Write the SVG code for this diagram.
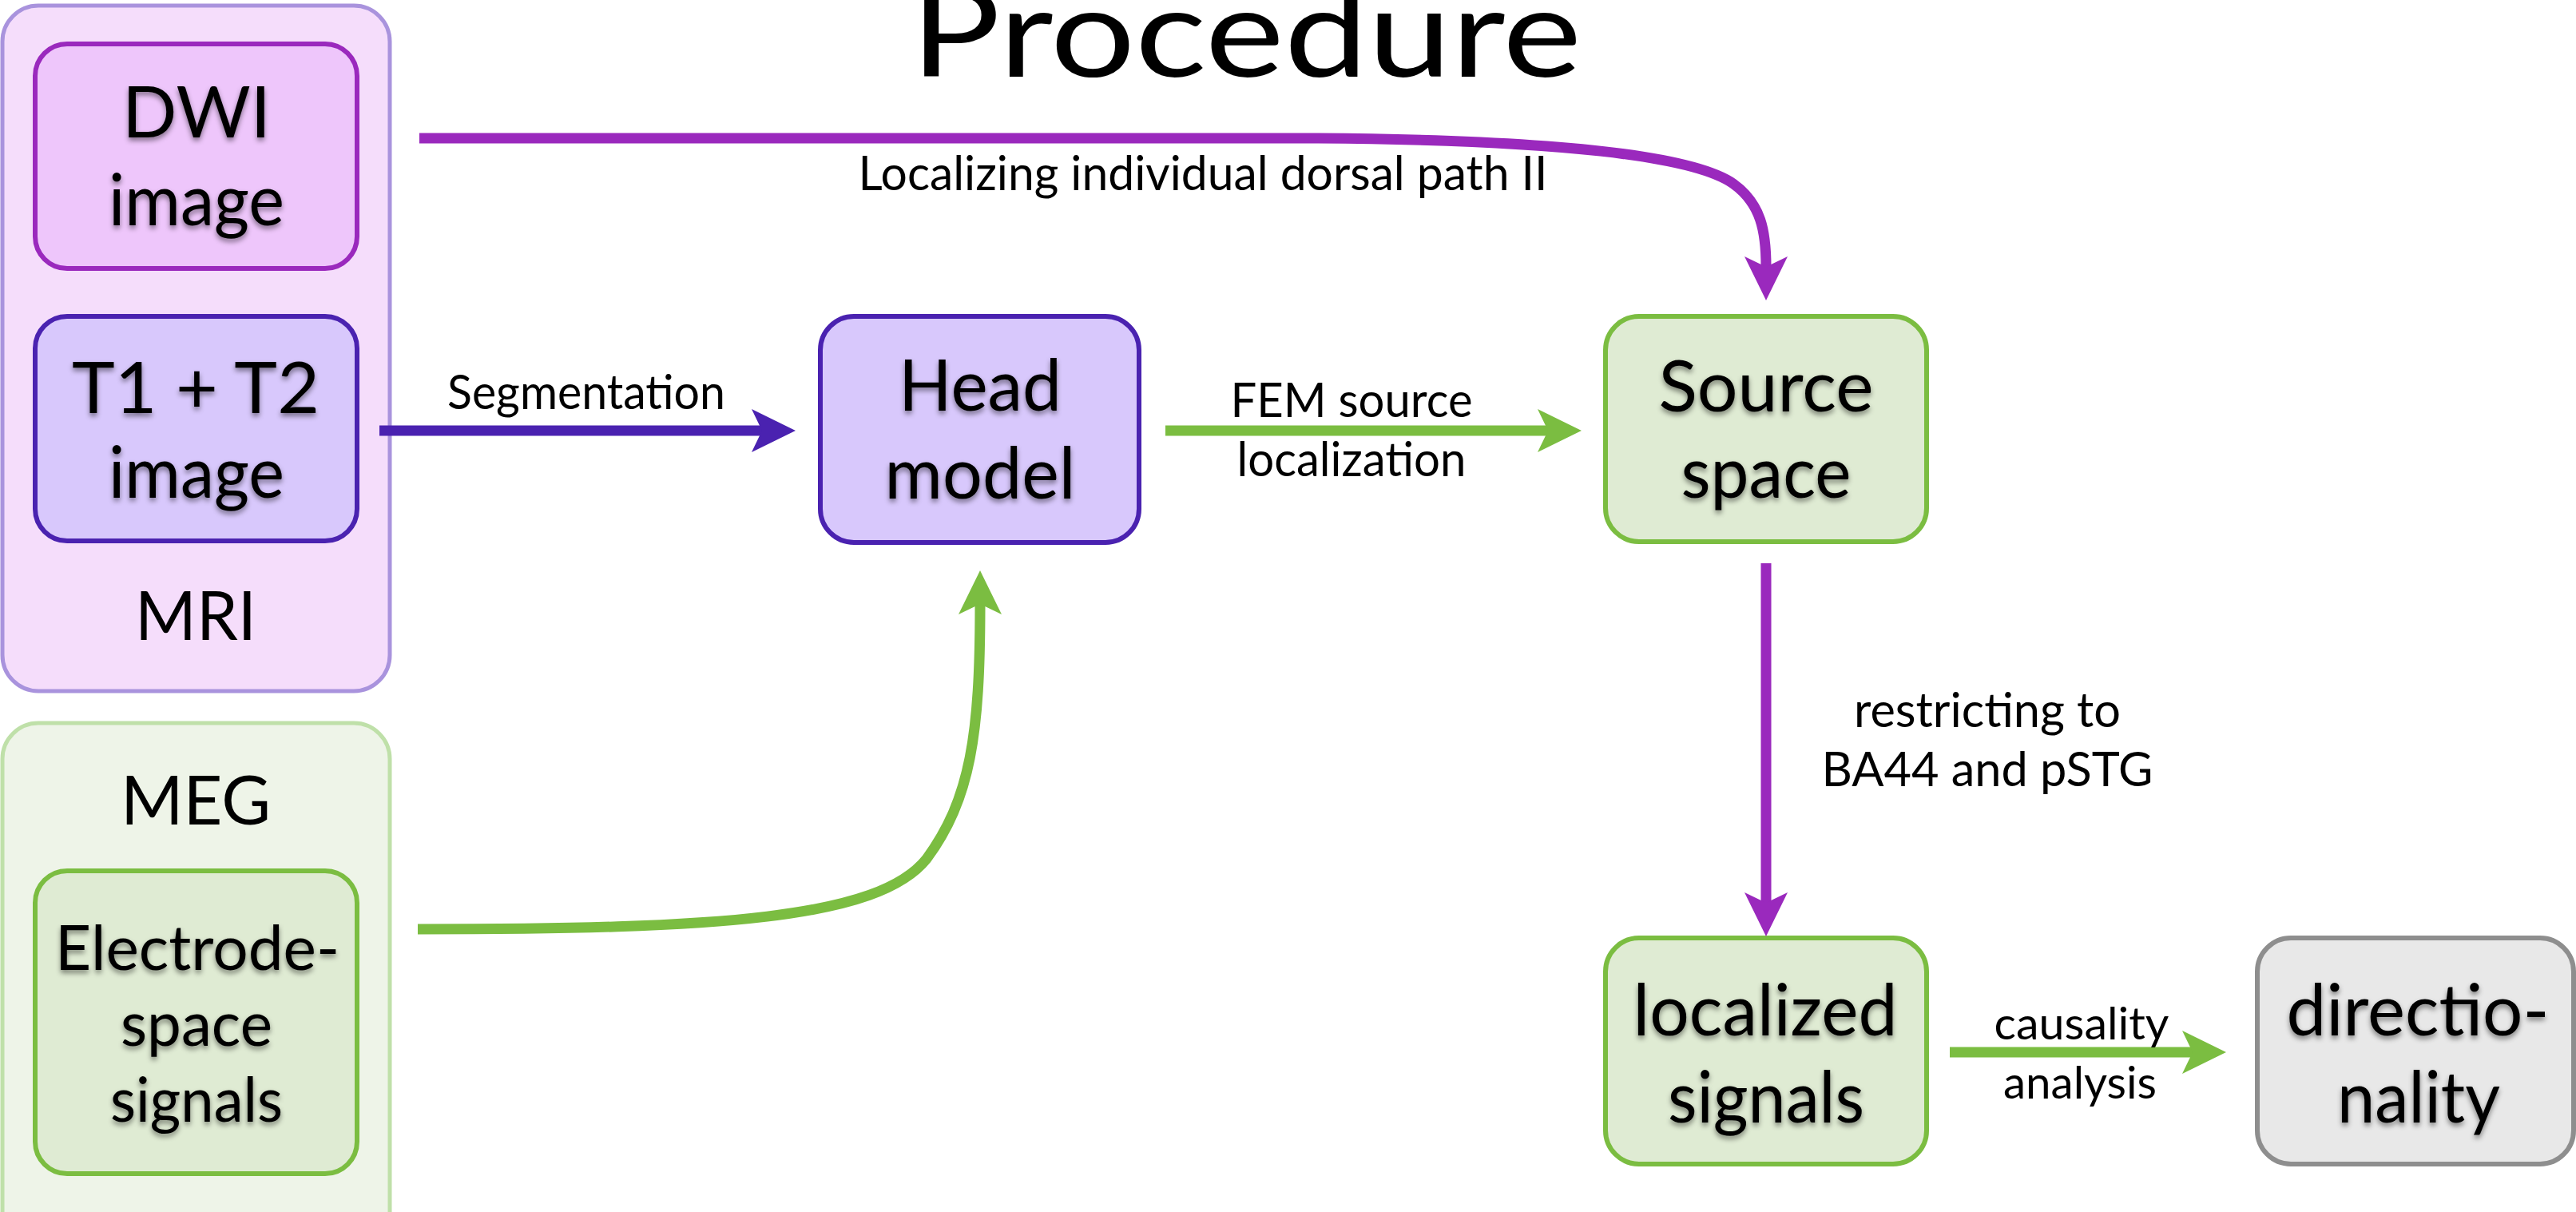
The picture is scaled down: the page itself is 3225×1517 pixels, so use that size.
<svg xmlns="http://www.w3.org/2000/svg" width="3225" height="1517" viewBox="0 0 3225 1517">
<style>
text{font-family:Lato,"Liberation Sans",sans-serif;fill:#000;text-anchor:middle}
.nt{font-size:90px;filter:url(#ts)}
.et{font-size:78px;filter:url(#ts)}
.gt{font-size:86px}
.lb{font-size:60px}
.sm{font-size:56px}
.line{fill:none;stroke-width:13}
.pu{stroke:#9a29bd}
.in{stroke:#4a22b0}
.gr{stroke:#7bbd41}
.node{stroke-width:6}
</style>
<defs>
<filter id="ts" x="-10%" y="-20%" width="120%" height="150%">
<feDropShadow dx="0" dy="4" stdDeviation="3" flood-color="#000" flood-opacity="0.45"/>
</filter>
<marker id="ap" viewBox="-56 -28 57 56" refX="-42" refY="0" markerWidth="57" markerHeight="56" markerUnits="userSpaceOnUse" orient="auto"><path d="M0,0 L-55,-27 L-42,0 L-55,27 Z" fill="#9a29bd"/></marker>
<marker id="ai" viewBox="-56 -28 57 56" refX="-42" refY="0" markerWidth="57" markerHeight="56" markerUnits="userSpaceOnUse" orient="auto"><path d="M0,0 L-55,-27 L-42,0 L-55,27 Z" fill="#4a22b0"/></marker>
<marker id="ag" viewBox="-56 -28 57 56" refX="-42" refY="0" markerWidth="57" markerHeight="56" markerUnits="userSpaceOnUse" orient="auto"><path d="M0,0 L-55,-27 L-42,0 L-55,27 Z" fill="#7bbd41"/></marker>
</defs>
<rect width="3225" height="1517" fill="#fff"/>

<text id="title" x="1560" y="96" style="font-size:155px" textLength="840" lengthAdjust="spacingAndGlyphs">Procedure</text>

<g id="mri">
<rect x="3" y="7" width="485" height="858" rx="45" fill="#f5ddfb" stroke="#a993dd" stroke-width="5"/>
<text class="gt" x="245" y="801" textLength="152" lengthAdjust="spacingAndGlyphs">MRI</text>
</g>
<g id="dwi">
<rect class="node" x="44" y="55" width="403" height="281" rx="40" fill="#eec6fb" stroke="#9a29bd"/>
<text class="nt" x="246" y="172" textLength="186" lengthAdjust="spacingAndGlyphs">DWI</text>
<text class="nt" x="246" y="282" textLength="220" lengthAdjust="spacingAndGlyphs">image</text>
</g>
<g id="t1t2">
<rect class="node" x="44" y="396" width="403" height="281" rx="40" fill="#d8c8fc" stroke="#4a22b0"/>
<text class="nt" x="245" y="517" textLength="310" lengthAdjust="spacingAndGlyphs">T1 + T2</text>
<text class="nt" x="246" y="623" textLength="220" lengthAdjust="spacingAndGlyphs">image</text>
</g>
<g id="meg">
<rect x="3" y="905" width="485" height="700" rx="45" fill="#eef4e8" stroke="#bfe0a9" stroke-width="5"/>
<text class="gt" x="245" y="1032" textLength="188" lengthAdjust="spacingAndGlyphs">MEG</text>
</g>
<g id="electrode">
<rect class="node" x="44" y="1090" width="403" height="379" rx="40" fill="#dfebd3" stroke="#7bbd41"/>
<text class="et" x="247" y="1214" textLength="356" lengthAdjust="spacingAndGlyphs">Electrode-</text>
<text class="et" x="246" y="1309" textLength="190" lengthAdjust="spacingAndGlyphs">space</text>
<text class="et" x="246" y="1404" textLength="216" lengthAdjust="spacingAndGlyphs">signals</text>
</g>
<g id="head">
<rect class="node" x="1027" y="396" width="399" height="283" rx="42" fill="#d8c8fc" stroke="#4a22b0"/>
<text class="nt" x="1227" y="514" textLength="204" lengthAdjust="spacingAndGlyphs">Head</text>
<text class="nt" x="1227" y="624" textLength="239" lengthAdjust="spacingAndGlyphs">model</text>
</g>
<g id="source">
<rect class="node" x="2010" y="396" width="402" height="282" rx="42" fill="#dfebd3" stroke="#7bbd41"/>
<text class="nt" x="2211" y="515" textLength="269" lengthAdjust="spacingAndGlyphs">Source</text>
<text class="nt" x="2211" y="623" textLength="213" lengthAdjust="spacingAndGlyphs">space</text>
</g>
<g id="localized">
<rect class="node" x="2010" y="1174" width="402" height="283" rx="42" fill="#dfebd3" stroke="#7bbd41"/>
<text class="nt" x="2210" y="1296" textLength="331" lengthAdjust="spacingAndGlyphs">localized</text>
<text class="nt" x="2211" y="1405" textLength="246" lengthAdjust="spacingAndGlyphs">signals</text>
</g>
<g id="directionality">
<rect class="node" x="2826" y="1174" width="396" height="283" rx="42" fill="#e8e8e8" stroke="#8e8e8e"/>
<text class="nt" x="3027" y="1296" textLength="329" lengthAdjust="spacingAndGlyphs">directio-</text>
<text class="nt" x="3028" y="1405" textLength="204" lengthAdjust="spacingAndGlyphs">nality</text>
</g>

<g id="connectors">
<path class="line pu" d="M525,173 L1650,173 C1950,175 2120,195 2170,230 C2205,255 2211,290 2211,334" marker-end="url(#ap)"/>
<path class="line in" d="M475,539 L954,539" marker-end="url(#ai)"/>
<path class="line gr" d="M1459,539 L1938,539" marker-end="url(#ag)"/>
<path class="line gr" d="M523,1163 C900,1163 1100,1150 1160,1075 C1215,1000 1227,920 1227,756" marker-end="url(#ag)"/>
<path class="line pu" d="M2211,705 L2211,1130" marker-end="url(#ap)"/>
<path class="line gr" d="M2441,1317 L2745,1317" marker-end="url(#ag)"/>
<text class="lb" x="1506" y="238" textLength="863" lengthAdjust="spacingAndGlyphs">Localizing individual dorsal path II</text>
<text class="lb" x="734" y="512" textLength="348" lengthAdjust="spacingAndGlyphs">Segmentation</text>
<text class="lb" x="1692" y="522" textLength="303" lengthAdjust="spacingAndGlyphs">FEM source</text>
<text class="lb" x="1692" y="596" textLength="287" lengthAdjust="spacingAndGlyphs">localization</text>
<text class="lb" x="2488" y="910" textLength="334" lengthAdjust="spacingAndGlyphs">restricting to</text>
<text class="lb" x="2488" y="984" textLength="415" lengthAdjust="spacingAndGlyphs">BA44 and pSTG</text>
<text class="sm" x="2606" y="1301" textLength="219" lengthAdjust="spacingAndGlyphs">causality</text>
<text class="sm" x="2604" y="1375" textLength="192" lengthAdjust="spacingAndGlyphs">analysis</text>
</g>
</svg>
